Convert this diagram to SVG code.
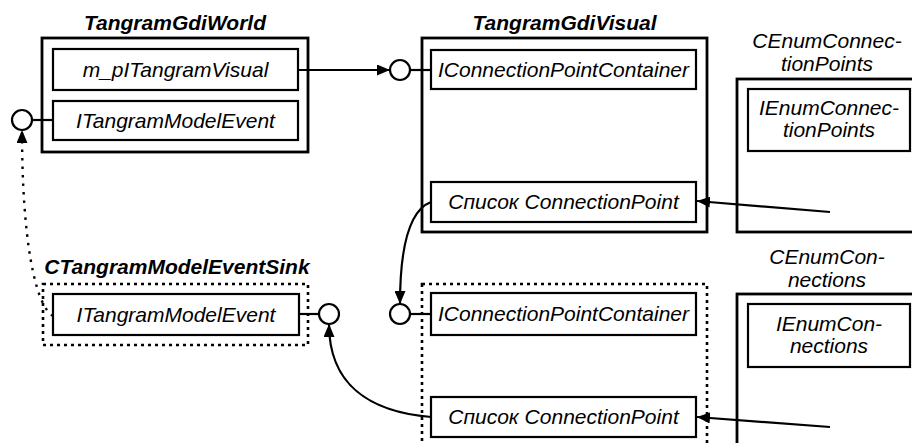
<svg xmlns="http://www.w3.org/2000/svg" width="912" height="443" viewBox="0 0 912 443">
<style>
text{font-family:"Liberation Sans",Arial,sans-serif;font-size:21px;font-style:italic;fill:#000;text-anchor:middle}
.title{font-weight:bold}
.outer{fill:#fff;stroke:#000;stroke-width:2.8}
.dotted{fill:#fff;stroke:#000;stroke-width:2.6;stroke-dasharray:3 4}
.inner{fill:#fff;stroke:#000;stroke-width:2.2}
.port{fill:#fff;stroke:#000;stroke-width:2.2}
.conn{fill:none;stroke:#000;stroke-width:2.2}
.dconn{fill:none;stroke:#000;stroke-width:2.4;stroke-dasharray:2.5 6}
</style>
<defs>
<marker id="arr" viewBox="0 0 13 11" refX="13" refY="5.5" markerWidth="13" markerHeight="11" markerUnits="userSpaceOnUse" orient="auto">
<path d="M0,0 L13,5.5 L0,11 z" fill="#000" stroke="none"/>
</marker>
</defs>

<g id="TangramGdiWorld">
<text class="title" x="175" y="30">TangramGdiWorld</text>
<rect class="outer" x="42" y="38" width="266" height="114"/>
<rect class="inner" x="53" y="49" width="245" height="41"/>
<text x="175.5" y="77">m_pITangramVisual</text>
<rect class="inner" x="53" y="101" width="245" height="39"/>
<text x="175.5" y="128">ITangramModelEvent</text>
<line class="conn" x1="32" y1="120" x2="53" y2="120"/>
<circle class="port" cx="22" cy="120" r="10"/>
</g>

<g id="TangramGdiVisual">
<text class="title" x="564.5" y="30">TangramGdiVisual</text>
<rect class="outer" x="422" y="38" width="285" height="194"/>
<rect class="inner" x="431" y="50" width="265" height="39"/>
<text x="563.5" y="77">IConnectionPointContainer</text>
<rect class="inner" x="431" y="182" width="265" height="40"/>
<text x="563.5" y="209">Список ConnectionPoint</text>
<line class="conn" x1="410" y1="70" x2="431" y2="70"/>
<circle class="port" cx="400" cy="70" r="10"/>
</g>

<g id="CEnumConnectionPoints">
<text x="827" y="48">CEnumConnec-</text>
<text x="827" y="71">tionPoints</text>
<rect class="outer" x="737" y="79" width="190" height="153"/>
<rect class="inner" x="748" y="89" width="162" height="62"/>
<text x="829" y="115">IEnumConnec-</text>
<text x="829" y="137">tionPoints</text>
</g>

<g id="CTangramModelEventSink">
<text class="title" x="177" y="274">CTangramModelEventSink</text>
<rect class="dotted" x="43" y="284" width="265" height="61"/>
<rect class="inner" x="53" y="294" width="246" height="41"/>
<text x="176" y="322">ITangramModelEvent</text>
<line class="conn" x1="299" y1="314" x2="319" y2="314"/>
<circle class="port" cx="329" cy="314" r="10"/>
</g>

<g id="TangramGdiVisual2">
<rect class="dotted" x="422" y="284" width="285" height="175"/>
<rect class="inner" x="431" y="293" width="265" height="42"/>
<text x="563.5" y="321">IConnectionPointContainer</text>
<rect class="inner" x="431" y="397" width="265" height="40"/>
<text x="563.5" y="424">Список ConnectionPoint</text>
<line class="conn" x1="410" y1="314" x2="431" y2="314"/>
<circle class="port" cx="400" cy="314" r="10"/>
</g>

<g id="CEnumConnections">
<text x="827" y="264">CEnumCon-</text>
<text x="827" y="287">nections</text>
<rect class="outer" x="737" y="294" width="190" height="170"/>
<rect class="inner" x="748" y="304" width="162" height="63"/>
<text x="829" y="331">IEnumCon-</text>
<text x="829" y="353">nections</text>
</g>

<g id="connectors">
<line class="conn" x1="298" y1="70" x2="390" y2="70" marker-end="url(#arr)"/>
<line class="conn" x1="830" y1="212" x2="697" y2="201" marker-end="url(#arr)"/>
<line class="conn" x1="830" y1="427" x2="697" y2="417" marker-end="url(#arr)"/>
<path class="conn" d="M431,202 C410,210 400,245 400,304" marker-end="url(#arr)"/>
<path class="conn" d="M431,417 C370,412 329,385 329,324" marker-end="url(#arr)"/>
<path class="dconn" d="M53,316 C35,305 22,240 22,130" marker-end="url(#arr)"/>
</g>
</svg>
